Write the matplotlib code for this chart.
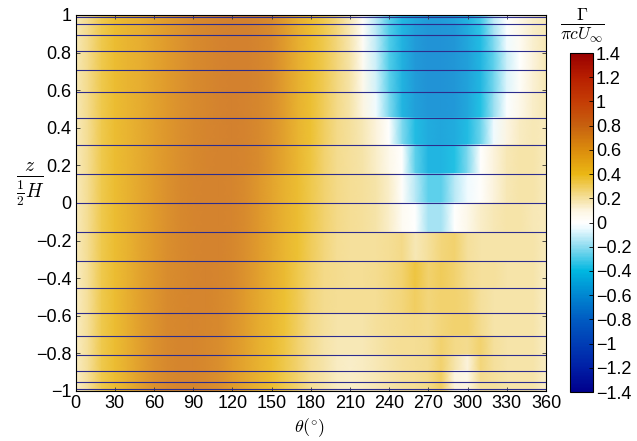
import numpy as np
import matplotlib
matplotlib.use("Agg")
import matplotlib.pyplot as plt
from matplotlib.colors import LinearSegmentedColormap, Normalize

plt.rcParams['font.family'] = ['Liberation Sans', 'DejaVu Sans']
plt.rcParams['mathtext.fontset'] = 'cm'

# Azimuthal positions (degrees) where circulation is sampled
theta = np.arange(0, 361, 10)

# Span-wise panel edges (cosine spacing), top to bottom
n_panels = 20
z_edges = np.cos(np.arange(n_panels + 1) * np.pi / n_panels)

# Normalised circulation Gamma/(pi c U_inf), one row per span panel (top to bottom)
gamma_rows = [
    [.18,.26,.36,.42,.46,.50,.55,.60,.64,.68,.71,.73,.74,.74,.72,.68,.60,.50,.42,.35,.28,.18,.03,-.15,-.30,-.42,-.50,-.55,-.55,-.52,-.45,-.32,-.12,.00,.10,.15,.18],
    [.18,.26,.36,.42,.46,.50,.55,.60,.64,.68,.71,.73,.74,.74,.72,.68,.60,.50,.42,.35,.28,.18,.03,-.15,-.31,-.44,-.52,-.57,-.57,-.54,-.47,-.34,-.14,-.01,.09,.15,.18],
    [.18,.26,.36,.42,.46,.50,.55,.60,.64,.68,.71,.73,.74,.74,.72,.68,.60,.50,.42,.35,.28,.18,.03,-.15,-.32,-.45,-.55,-.60,-.60,-.58,-.50,-.38,-.18,-.02,.08,.15,.18],
    [.18,.26,.36,.42,.46,.50,.55,.60,.64,.68,.71,.73,.74,.74,.72,.68,.60,.50,.42,.35,.28,.19,.04,-.14,-.32,-.47,-.57,-.62,-.62,-.60,-.52,-.42,-.25,-.05,.05,.14,.18],
    [.18,.26,.36,.42,.46,.50,.55,.60,.64,.68,.71,.73,.74,.74,.72,.68,.60,.50,.42,.35,.28,.20,.05,-.12,-.32,-.48,-.58,-.62,-.62,-.60,-.55,-.45,-.30,-.12,.00,.12,.18],
    [.18,.26,.36,.42,.46,.50,.55,.60,.64,.68,.71,.73,.74,.74,.72,.67,.59,.49,.41,.34,.27,.20,.07,-.10,-.30,-.47,-.57,-.62,-.62,-.60,-.54,-.44,-.27,-.08,.03,.13,.18],
    [.18,.26,.36,.42,.46,.51,.56,.61,.65,.68,.71,.73,.74,.73,.71,.66,.58,.48,.41,.33,.26,.20,.10,-.05,-.25,-.45,-.55,-.60,-.60,-.58,-.52,-.40,-.20,-.02,.08,.15,.18],
    [.17,.25,.36,.42,.47,.52,.57,.62,.66,.69,.72,.73,.74,.73,.70,.64,.56,.47,.40,.32,.26,.22,.18,.12,.00,-.25,-.42,-.50,-.52,-.50,-.42,-.28,-.05,.10,.16,.18,.17],
    [.17,.25,.36,.42,.47,.52,.57,.62,.66,.69,.72,.73,.73,.72,.68,.62,.54,.45,.38,.30,.25,.22,.20,.15,.08,.00,-.30,-.45,-.45,-.40,-.25,.00,.12,.18,.20,.20,.17],
    [.17,.25,.36,.42,.48,.54,.60,.65,.69,.72,.73,.73,.72,.68,.62,.55,.48,.42,.35,.30,.26,.24,.22,.20,.15,.02,-.15,-.30,-.30,-.15,-.05,.02,.12,.18,.20,.20,.17],
    [.17,.25,.36,.42,.48,.54,.60,.65,.69,.72,.73,.73,.72,.68,.62,.55,.48,.42,.36,.30,.26,.24,.22,.20,.15,.05,.00,-.18,-.18,.00,.08,.15,.18,.20,.20,.18,.17],
    [.17,.25,.36,.42,.48,.55,.61,.66,.70,.72,.73,.73,.71,.66,.60,.53,.45,.40,.33,.28,.24,.22,.22,.22,.24,.26,.18,.22,.28,.30,.22,.20,.20,.20,.20,.20,.17],
    [.16,.24,.36,.42,.49,.56,.62,.67,.70,.72,.73,.72,.69,.64,.57,.50,.43,.36,.30,.26,.25,.24,.24,.25,.27,.30,.38,.30,.33,.30,.25,.22,.22,.20,.20,.20,.16],
    [.16,.24,.36,.42,.50,.57,.63,.68,.71,.72,.72,.70,.66,.60,.53,.46,.40,.34,.28,.25,.24,.23,.23,.24,.26,.28,.32,.28,.30,.30,.28,.22,.20,.20,.20,.20,.16],
    [.16,.24,.36,.42,.50,.58,.64,.69,.71,.72,.71,.69,.64,.58,.51,.45,.39,.32,.26,.22,.20,.20,.20,.22,.24,.25,.26,.25,.28,.30,.30,.25,.20,.20,.20,.20,.16],
    [.16,.24,.36,.42,.50,.58,.65,.70,.72,.72,.70,.67,.62,.56,.49,.43,.37,.30,.25,.20,.18,.18,.18,.20,.22,.24,.24,.25,.30,.26,.25,.30,.22,.20,.20,.20,.16],
    [.16,.24,.36,.42,.50,.58,.65,.70,.72,.72,.70,.66,.60,.54,.48,.42,.36,.30,.24,.20,.16,.15,.16,.18,.20,.22,.24,.25,.30,.20,.12,.28,.22,.20,.20,.20,.16],
    [.15,.23,.36,.42,.50,.58,.65,.70,.72,.72,.70,.66,.60,.54,.48,.42,.36,.30,.24,.20,.16,.15,.16,.18,.20,.22,.24,.26,.32,.10,.08,.25,.22,.20,.20,.20,.15],
    [.15,.23,.36,.42,.50,.58,.65,.70,.72,.72,.70,.66,.60,.54,.48,.42,.36,.30,.24,.20,.16,.15,.16,.18,.20,.22,.24,.26,.32,.12,.10,.22,.22,.20,.20,.20,.15],
    [.15,.23,.36,.42,.50,.58,.65,.70,.72,.72,.70,.66,.60,.54,.48,.42,.36,.30,.24,.20,.16,.15,.16,.18,.20,.22,.24,.26,.32,.12,.10,.22,.22,.20,.20,.20,.15],
]

# Diverging colour scale: dark blue - cyan - white - gold - orange - dark red
vmin, vmax = -1.4, 1.4
cmap_nodes = [
    (-1.4, (0.00, 0.00, 0.55)),
    (-1.2, (0.00, 0.12, 0.65)),
    (-1.0, (0.00, 0.24, 0.71)),
    (-0.8, (0.00, 0.36, 0.76)),
    (-0.6, (0.00, 0.53, 0.82)),
    (-0.4, (0.00, 0.72, 0.88)),
    (-0.2, (0.55, 0.86, 0.94)),
    (-0.05, (0.93, 0.98, 1.00)),
    (0.0, (1.00, 1.00, 1.00)),
    (0.1, (0.99, 0.96, 0.88)),
    (0.2, (0.96, 0.88, 0.62)),
    (0.3, (0.94, 0.80, 0.35)),
    (0.4, (0.92, 0.72, 0.08)),
    (0.6, (0.86, 0.55, 0.05)),
    (0.8, (0.78, 0.38, 0.06)),
    (1.0, (0.77, 0.24, 0.02)),
    (1.2, (0.72, 0.12, 0.00)),
    (1.4, (0.60, 0.00, 0.00)),
]
pos = [(v - vmin) / (vmax - vmin) for v, _ in cmap_nodes]
cmap = LinearSegmentedColormap.from_list("circ", list(zip(pos, [c for _, c in cmap_nodes])))
# Slightly washed-out version of the same scale for the surface itself
wash = 0.13
cmap_surf = LinearSegmentedColormap.from_list(
    "circ_surf",
    list(zip(pos, [tuple((1 - wash) * ch + wash for ch in c) for _, c in cmap_nodes])))
norm = Normalize(vmin=vmin, vmax=vmax)

fig = plt.figure(figsize=(6.37, 4.41), dpi=100)
ax = fig.add_axes([0.1188, 0.1134, 0.7383, 0.8526])

for k, row in enumerate(gamma_rows):
    zz = [z_edges[k + 1], z_edges[k]]
    cc = np.vstack([row, row])
    ax.pcolormesh(theta, zz, cc, shading='gouraud', cmap=cmap_surf, norm=norm,
                  zorder=1, antialiased=False)

# Panel boundaries
for z in z_edges:
    ax.axhline(z, color='#2c2c8c', lw=0.8, zorder=2)

ax.set_xlim(0, 360)
ax.set_ylim(-1, 1)
ax.set_xticks(np.arange(0, 361, 30))
ax.set_xticklabels([str(v) for v in range(0, 361, 30)])
yt = np.round(np.arange(-1, 1.01, 0.2), 1)
ax.set_yticks(yt)
ax.set_yticklabels([('%g' % v).replace('-', '\u2212') if abs(v) > 1e-9 else '0' for v in yt])
ax.tick_params(direction='in', length=3, width=0.6, top=True, right=True,
               labelsize=13, color='#333333')
ax.tick_params(axis='x', pad=3)
ax.tick_params(axis='y', pad=3)
for sp in ax.spines.values():
    sp.set_linewidth(0.8)

fig.text(310 / 637, 1 - 428 / 441, r'$\theta(^{\circ})$', ha='center', va='center', fontsize=13)
fig.text(30 / 637, 1 - 184 / 441, r'$\frac{z}{\frac{1}{2}H}$', ha='center', va='center', fontsize=20)

# Colour bar
cax = fig.add_axes([0.8948, 0.1111, 0.0361, 0.7687])
cb = fig.colorbar(plt.cm.ScalarMappable(norm=norm, cmap=cmap), cax=cax)
ct = np.round(np.arange(-1.4, 1.41, 0.2), 1)
cb.set_ticks(ct)
cb.set_ticklabels([('%g' % v).replace('-', '\u2212') if abs(v) > 1e-9 else '0' for v in ct])
cax.tick_params(direction='in', length=3, width=0.6, labelsize=13, pad=2)
cb.outline.set_linewidth(0.8)
fig.text(582 / 637, 1 - 26 / 441, r'$\frac{\Gamma}{\pi c U_{\infty}}$', ha='center', va='center', fontsize=18)

fig.savefig('out.png', dpi=100)
